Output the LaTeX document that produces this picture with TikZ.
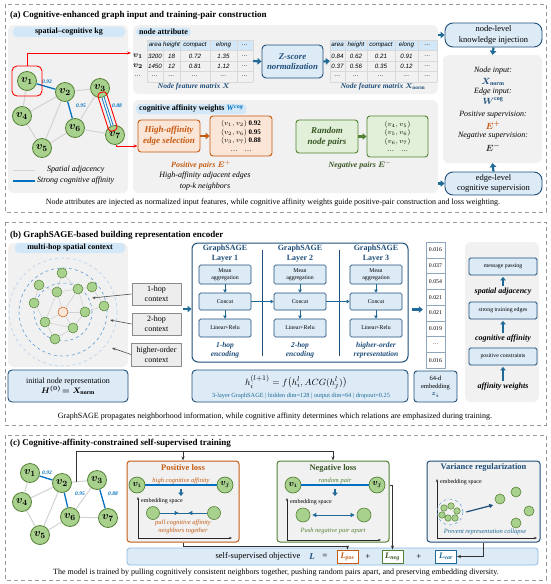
\documentclass[tikz,border=0pt]{standalone}
\usepackage{fontspec}
\usepackage{amsmath}
\usepackage{bm}
\setmainfont{Liberation Serif}
\newfontfamily\tabfont{Liberation Sans}
\usetikzlibrary{arrows.meta,positioning,calc}

\definecolor{panelgray}{HTML}{F1F1F1}
\definecolor{pillblue}{HTML}{D2E8F8}
\definecolor{boxblue}{HTML}{DDEBF7}
\definecolor{deepblue}{HTML}{1F4E79}
\definecolor{arrowteal}{HTML}{1F6A96}
\definecolor{edgeblue}{HTML}{0070C0}
\definecolor{orangeline}{HTML}{C55A11}
\definecolor{peach}{HTML}{FBE5D6}
\definecolor{greenline}{HTML}{548235}
\definecolor{greenfill}{HTML}{E2F0D9}
\definecolor{nodegreen}{HTML}{A9D18E}
\definecolor{darkgreen}{HTML}{375623}
\definecolor{adjgray}{HTML}{D3D3D3}
\definecolor{ctxgray}{HTML}{EDEDED}
\definecolor{ringblue}{HTML}{5B9BD5}

\newcommand{\fsz}[1]{\fontsize{#1}{\fpeval{1.2*#1}}\selectfont}

\tikzset{
	sectbox/.style={draw=black!40, dash pattern=on 4pt off 3pt, line width=0.8pt},
	heading/.style={anchor=west, inner sep=0, font=\bfseries\fsz{9}},
	captext/.style={inner sep=0, font=\fsz{8}},
	panel/.style={fill=panelgray, rounded corners=6pt, inner sep=0},
	pill/.style={fill=pillblue, rounded corners=4pt, inner xsep=3pt, inner ysep=1.5pt, font=\bfseries\fsz{8}},
	bluebox/.style={fill=boxblue, draw=deepblue, line width=0.9pt, rounded corners=4pt, align=center, inner sep=1pt},
	orangebox/.style={fill=peach, draw=orangeline, line width=0.9pt, rounded corners=3pt, align=center, inner sep=1pt},
	greenbox/.style={fill=greenfill, draw=greenline, line width=0.9pt, rounded corners=3pt, align=center, inner sep=1pt},
	gnode/.style={circle, draw=greenline, fill=nodegreen, line width=0.8pt, minimum size=19, inner sep=0, font=\boldmath\fsz{11}},
	mnode/.style={circle, draw=greenline, fill=nodegreen, line width=0.5pt, minimum size=10, inner sep=0},
	inode/.style={circle, draw=greenline, fill=nodegreen, line width=0.7pt, minimum size=16, inner sep=0, font=\boldmath\fsz{9}},
	ecircle/.style={circle, draw=greenline, fill=nodegreen, line width=0.6pt, minimum size=13, inner sep=0},
	tinynode/.style={circle, draw=greenline, fill=nodegreen, line width=0.5pt, minimum size=6.5, inner sep=0},
	adj/.style={draw=adjgray, line width=1pt},
	aff/.style={draw=edgeblue, line width=1.3pt},
	mesh/.style={draw=black!18, line width=0.6pt},
	ring/.style={draw=ringblue, dashed, line width=0.6pt},
	wlab/.style={font=\bfseries\itshape\fsz{5.5}, text=edgeblue, inner sep=0},
	redarrow/.style={draw=red, line width=0.9pt, -{Stealth[length=4pt]}},
	fatarrow/.style={draw=arrowteal, line width=2.2pt, -{Triangle[length=4pt,width=6.5pt]}},
	upfat/.style={draw=arrowteal, line width=1.8pt, -{Triangle[length=3.5pt,width=5.5pt]}},
	smallarrow/.style={draw=arrowteal, line width=0.9pt, -{Triangle[length=3pt,width=3.5pt]}},
	ctxarrow/.style={draw=black!70, line width=0.6pt, -{Stealth[length=3.5pt]}},
	connline/.style={draw=black!80, line width=0.8pt},
	conn/.style={connline, -{Stealth[length=4pt]}},
	embaxis/.style={draw=black!85, line width=0.7pt, -{Stealth[length=3pt]}},
	tealline/.style={draw=arrowteal, line width=0.8pt},
	tabline/.style={draw=black!15, line width=0.4pt},
	tabtext/.style={font=\tabfont\itshape\fsz{6.2}, inner sep=0},
	infotext/.style={font=\itshape\fsz{8}, inner sep=0},
	ctxbox/.style={fill=ctxgray, draw=black!45, line width=0.6pt, minimum width=49, minimum height=22, align=center, inner sep=0, font=\fsz{8}},
	sbox/.style={fill=boxblue, draw=deepblue, line width=0.7pt, rounded corners=1.5pt, minimum width=52, inner sep=0.5pt, align=center, font=\fsz{5.8}},
	vcell/.style={fill=white, draw=deepblue!50, line width=0.4pt, minimum width=19, minimum height=15.75, inner sep=0, font=\fsz{5.8}},
	rolebox/.style={fill=boxblue, draw=deepblue, line width=0.8pt, minimum width=68, minimum height=17, rounded corners=1.5pt, inner sep=0, font=\fsz{5.8}},
	roletext/.style={font=\bfseries\itshape\fsz{8}, inner sep=1pt},
	lossframe/.style={fill=panelgray, line width=1pt, rounded corners=3pt, inner sep=0, minimum width=112, minimum height=81},
	lossbox/.style={fill=white, line width=0.9pt, minimum width=21, minimum height=13, inner sep=0, font=\bfseries\itshape\fsz{8.5}}
}

\begin{document}
\begin{tikzpicture}[x=1pt, y=-1pt]
	\useasboundingbox (0,0) rectangle (550,584);
	\fill[white] (0,0) rectangle (550,584);

	\draw[sectbox] (5,4) rectangle (546,212);
	\node[heading] (headA) at (10,15) {(a) Cognitive-enhanced graph input and training-pair construction};

	\node[panel, minimum width=120, minimum height=168] (kgpanel) at (68,109) {};
	\node[pill, minimum width=112] (kglab) at (69,32) {spatial--cognitive kg};
	\node[gnode] (a1) at (27,81) {$v_1$};
	\node[gnode] (a2) at (65,92) {$v_2$};
	\node[gnode] (a3) at (100,88) {$v_3$};
	\node[gnode] (a4) at (22,116) {$v_4$};
	\node[gnode] (a5) at (42,148) {$v_5$};
	\node[gnode] (a6) at (75,128) {$v_6$};
	\node[gnode] (a7) at (115,135) {$v_7$};
	\draw[adj] (a1) -- (a4);
	\draw[adj] (a2) -- (a3);
	\draw[adj] (a2) -- (a4);
	\draw[adj] (a2) -- (a5);
	\draw[adj] (a3) -- (a6);
	\draw[adj] (a4) -- (a5);
	\draw[adj] (a5) -- (a6);
	\draw[adj] (a6) -- (a7);
	\draw[aff] (a1) -- (a2);
	\draw[aff] (a2) -- (a6);
	\draw[edgeblue, double=panelgray, double distance=1.4pt, line width=0.8pt] (a3) -- (a7);
	\node[wlab] (aw1) at (47,82) {0.92};
	\node[wlab] (aw2) at (81,106) {0.95};
	\node[wlab] (aw3) at (117,106) {0.88};
	\node[draw=red, line width=0.9pt, rounded corners=5pt, minimum size=30] (v1sel) at (a1) {};
	\node[draw=red, line width=0.9pt, rounded corners=3pt, minimum width=40, minimum height=9, rotate=-72.3] (e37sel) at ($(a3)!0.5!(a7)$) {};
	\draw[adj] (13,170) -- (35,170);
	\node[font=\itshape\fsz{8}, anchor=west, inner sep=0] (legadj) at (47,170) {Spatial adjacency};
	\draw[aff] (13,181) -- (35,181);
	\node[font=\itshape\fsz{8}, anchor=west, inner sep=0] (legaff) at (37,181) {Strong cognitive affinity};

	\node[panel, minimum width=305, minimum height=69] (attrpanel) at (285.5,59.5) {};
	\node[pill, anchor=west] (attrlab) at (136,32) {node attribute};
	\fill[pillblue] (147,40) rectangle (253,50);
	\foreach \gx in {147,163,180,210,237,253} \draw[tabline] (\gx,40) -- (\gx,82);
	\foreach \gy in {40,50,61,71,82} \draw[tabline] (147,\gy) -- (253,\gy);
	\foreach \tx/\hd [count=\k] in {155/area,171.5/height,195/compact,223.5/elong,245/\dots} \node[tabtext] (xh\k) at (\tx,45) {\hd};
	\foreach \tx/\hd [count=\k] in {155/3200,171.5/18,195/0.72,223.5/1.35,245/\dots} \node[tabtext] (xa\k) at (\tx,56) {\hd};
	\foreach \tx/\hd [count=\k] in {155/1450,171.5/12,195/0.81,223.5/1.12,245/\dots} \node[tabtext] (xb\k) at (\tx,66) {\hd};
	\foreach \tx [count=\k] in {155,171.5,195,223.5,245} \node[tabtext] (xc\k) at (\tx,76) {\dots};
	\node[font=\boldmath\fsz{8.5}] (xr1) at (138,56) {$v_1$};
	\node[font=\boldmath\fsz{8.5}] (xr2) at (138,66) {$v_2$};
	\node[tabtext] (xr3) at (138,76) {\dots};
	\node[minimum width=106, minimum height=42, inner sep=0] (tabx) at (200,61) {};
	\node[font=\boldmath\bfseries\itshape\fsz{7.5}, text=deepblue] (tabxlab) at (194,87) {Node feature matrix $X$};
	\node[bluebox, minimum width=61, minimum height=33, font=\bfseries\itshape\fsz{8.8}, text=deepblue] (zscore) at (292.5,61.5) {Z-score\\normalization};
	\fill[pillblue] (330,40) rectangle (437,50);
	\foreach \gx in {330,345,367,395,418,437} \draw[tabline] (\gx,40) -- (\gx,82);
	\foreach \gy in {40,50,61,71,82} \draw[tabline] (330,\gy) -- (437,\gy);
	\foreach \tx/\hd [count=\k] in {337.5/area,356/height,381/compact,406.5/elong,427.5/\dots} \node[tabtext] (nh\k) at (\tx,45) {\hd};
	\foreach \tx/\hd [count=\k] in {337.5/0.84,356/0.62,381/0.21,406.5/0.91,427.5/\dots} \node[tabtext] (na\k) at (\tx,56) {\hd};
	\foreach \tx/\hd [count=\k] in {337.5/0.37,356/0.56,381/0.35,406.5/0.12,427.5/\dots} \node[tabtext] (nb\k) at (\tx,66) {\hd};
	\foreach \tx [count=\k] in {337.5,356,381,406.5,427.5} \node[tabtext] (nc\k) at (\tx,76) {\dots};
	\node[minimum width=107, minimum height=42, inner sep=0] (tabn) at (383.5,61) {};
	\node[font=\boldmath\bfseries\itshape\fsz{7.5}, text=deepblue] (tabnlab) at (383,87) {Node feature matrix $X_{\mathrm{norm}}$};
	\draw[fatarrow] (tabx.east) -- (zscore.west);
	\draw[fatarrow] (zscore.east) -- (tabn.west);
	\coordinate (attrin) at (131,53);
	\draw[redarrow] (v1sel.north) |- (attrin);

	\node[bluebox, rounded corners=8pt, minimum width=97, minimum height=24, font=\fsz{8.5}] (nodeinj) at (493.5,35) {node-level\\knowledge injection};
	\node[panel, minimum width=99, minimum height=108] (infopanel) at (492.5,109) {};
	\node[infotext] (ni1) at (493,71) {Node input:};
	\node[font=\boldmath\fsz{9}, text=deepblue] (ni2) at (493,82) {$X_{\mathrm{norm}}$};
	\node[infotext] (ni3) at (493,92) {Edge input:};
	\node[font=\boldmath\fsz{9}, text=deepblue] (ni4) at (493,101) {$W^{\mathrm{cog}}$};
	\node[infotext] (ni5) at (493,115) {Positive supervision:};
	\node[font=\boldmath\fsz{9}, text=orangeline] (ni6) at (493,125) {$E^{+}$};
	\node[infotext] (ni7) at (493,136) {Negative supervision:};
	\node[font=\boldmath\fsz{9}, text=black!80] (ni8) at (493,147) {$E^{-}$};
	\node[bluebox, rounded corners=8pt, minimum width=97, minimum height=23, font=\fsz{8.5}] (edgebox) at (493.5,183.5) {edge-level\\cognitive supervision};
	\draw[fatarrow] (attrpanel.east |- nodeinj.west) -- (nodeinj.west);
	\draw[fatarrow] (nodeinj.south) -- (infopanel.north);
	\draw[fatarrow] (edgebox.north) -- (infopanel.south);

	\node[panel, minimum width=305, minimum height=93] (affpanel) at (285.5,146.5) {};
	\node[pill, anchor=west] (afflab) at (136,109) {cognitive affinity weights \textcolor{edgeblue}{\textit{W}\textsuperscript{\textit{cog}}}};
	\node[orangebox, minimum width=62, minimum height=32, font=\bfseries\itshape\fsz{9}, text=orangeline] (hisel) at (169,136) {High-affinity\\edge selection};
	\node[orangebox, minimum width=62, minimum height=40, font=\fsz{7}] (pospairs) at (241,136) {$(v_1,v_2)$ \textbf{0.92}\\$(v_2,v_6)$ \textbf{0.95}\\$(v_3,v_7)$ \textbf{0.88}\\\dots\quad\dots};
	\node[font=\bfseries\itshape\fsz{8}, text=orangeline] (poslab) at (201,165) {Positive pairs $\bm{E}^{+}$};
	\node[infotext] (posdesc1) at (205,176) {High-affinity adjacent edges};
	\node[infotext] (posdesc2) at (205,187) {top-\textit{k} neighbors};
	\node[greenbox, minimum width=62, minimum height=33, font=\bfseries\itshape\fsz{9}, text=darkgreen] (randsel) at (327,136.5) {Random\\node pairs};
	\node[greenbox, minimum width=61, minimum height=41, font=\fsz{7}] (negpairs) at (397.5,136.5) {$(v_4,v_5)$\\$(v_5,v_6)$\\$(v_6,v_7)$\\\dots\quad\dots};
	\node[font=\bfseries\itshape\fsz{8}, text=darkgreen] (neglab) at (360,165) {Negative pairs $\bm{E}^{-}$};
	\draw[fatarrow, draw=orangeline] (hisel.east) -- (pospairs.west);
	\draw[fatarrow, draw=greenline] (randsel.east) -- (negpairs.west);
	\draw[fatarrow] (affpanel.east |- edgebox.west) -- (edgebox.west);
	\draw[redarrow] (a7.-80) |- ([yshift=-10pt]hisel.west);

	\node[captext] (capA) at (273,203) {Node attributes are injected as normalized input features, while cognitive affinity weights guide positive-pair construction and loss weighting.};

	\draw[sectbox] (5,222) rectangle (546,425);
	\node[heading] (headB) at (10,235) {(b) GraphSAGE-based building representation encoder};

	\node[panel, minimum width=120, minimum height=124] (hoppanel) at (68,305) {};
	\node[pill, minimum width=110] (hoplab) at (70,248) {multi-hop spatial context};
	\node[mnode, fill=peach, draw=orangeline] (m0) at (63,312) {};
	\draw[draw=ringblue!45, dashed, line width=0.6pt] (m0) circle[radius=54pt];
	\draw[ring] (m0) circle[radius=44pt];
	\draw[ring] (m0) circle[radius=29pt];
	\node[mnode] (m1) at (62,273) {};
	\node[mnode] (m2) at (39,285) {};
	\node[mnode] (m3) at (57,292) {};
	\node[mnode] (m4) at (78,289) {};
	\node[mnode] (m5) at (92,287) {};
	\node[mnode] (m6) at (34,303) {};
	\node[mnode] (m7) at (104,306) {};
	\node[mnode] (m8) at (85,312) {};
	\node[mnode] (m9) at (45,322) {};
	\node[mnode] (m10) at (73,328) {};
	\node[mnode] (m11) at (55,339) {};
	\foreach \ea/\eb in {0/3,0/4,0/8,0/9,0/10,3/4,4/8,8/10,10/9,9/3,1/3,2/3,4/5,5/7,7/8,6/9,9/11,10/11,2/6,1/4}
		\draw[mesh] (m\ea) -- (m\eb);
	\node[ctxbox] (hop1) at (156.5,294) {1-hop\\context};
	\node[ctxbox] (hop2) at (156.5,324) {2-hop\\context};
	\node[ctxbox, minimum width=50, minimum height=23] (hop3) at (156.5,354.5) {higher-order\\context};
	\coordinate (hop1pt) at (92,298);
	\coordinate (hop2pt) at (110,320);
	\coordinate (hop3pt) at (112,348);
	\draw[ctxarrow] (hop1.west) -- (hop1pt);
	\draw[ctxarrow] (hop2.west) -- (hop2pt);
	\draw[ctxarrow] (hop3.west) -- (hop3pt);
	\node[bluebox, minimum width=120, minimum height=32, font=\fsz{8}] (initrep) at (68,386) {initial node representation\\{\boldmath$H^{(0)}\!=X_{\mathrm{norm}}$}};

	\node[draw=deepblue, fill=white, line width=1pt, rounded corners=6pt, minimum width=216, minimum height=119, inner sep=0] (sage) at (300,302.5) {};
	\draw[deepblue, line width=0.8pt] (262,250) -- (262,356);
	\draw[deepblue, line width=0.8pt] (339,250) -- (339,356);
	\foreach \l/\cx/\capt in {1/225/{1-hop\\encoding}, 2/300/{2-hop\\encoding}, 3/376/{higher-order\\representation}}{
		\node[font=\bfseries\fsz{8}, text=deepblue, align=center, inner sep=0] (lay\l) at (\cx,253.5) {GraphSAGE\\Layer \l};
		\node[sbox, minimum height=19] (mean\l) at (\cx,274.5) {Mean\\aggregation};
		\node[sbox, minimum height=17] (cat\l) at (\cx,301.5) {Concat};
		\node[sbox, minimum height=18] (lin\l) at (\cx,328) {Linear+Relu};
		\node[font=\bfseries\itshape\fsz{7.5}, text=deepblue, align=center, inner sep=0] (enc\l) at (\cx,350.5) {\capt};
		\draw[smallarrow] (mean\l) -- (cat\l);
		\draw[smallarrow] (cat\l) -- (lin\l);
	}
	\draw[smallarrow] (cat1) -- (cat2);
	\draw[smallarrow] (cat2) -- (cat3);
	\coordinate (ctxout) at (183,309);
	\draw[fatarrow] (ctxout) -- (ctxout -| sage.west);
	\node[bluebox, minimum width=216, minimum height=32] (formula) at (300,386) {};
	\node[font=\fsz{9.5}, inner sep=0] (formtxt) at (296,382) {$h_i^{(l+1)} = f\bigl(h_i^l, ACG(h_j^l)\bigr)$};
	\node[font=\fsz{6.3}, text=arrowteal, inner sep=0] (formcfg) at (301,395.5) {3-layer GraphSAGE | hidden dim=128 | output dim=64 | dropout=0.25};

	\foreach \val [count=\k] in {0.016,0.037,0.054,0.021,0.021,0.019,{\dots},0.016}
		\node[vcell] (vec\k) at (435.5,{234.125+15.75*\k}) {\val};
	\coordinate (sageout) at ($(sage.east)+(3,7)$);
	\draw[fatarrow, shorten >=3pt] (sageout) -- (sageout -| vec4.west);
	\node[bluebox, rounded corners=3pt, minimum width=43, minimum height=31, font=\fsz{6.5}] (embbox) at (435.5,386.5) {64-d\\embedding\\{\boldmath\color{deepblue}$z_i$}};

	\node[panel, minimum width=74, minimum height=160] (rolepanel) at (502,322) {};
	\node[rolebox] (msgbox) at (503,266.5) {message passing};
	\node[roletext] (spadj) at (503,292) {spatial adjacency};
	\node[rolebox] (strbox) at (503,310.5) {strong training edges};
	\node[roletext] (cogaff) at (503,339) {cognitive affinity};
	\node[rolebox] (posbox) at (503,356.5) {positive constraints};
	\node[roletext] (affw) at (503,387) {affinity weights};
	\draw[upfat, shorten <=1.5pt, shorten >=1.5pt] (spadj) -- (msgbox);
	\draw[upfat, shorten <=1.5pt, shorten >=1.5pt] (cogaff) -- (strbox);
	\draw[upfat, shorten <=1.5pt, shorten >=1.5pt] (affw) -- (posbox);

	\node[captext] (capB) at (275,417) {GraphSAGE propagates neighborhood information, while cognitive affinity determines which relations are emphasized during training.};

	\draw[sectbox] (5,435) rectangle (546,580);
	\node[heading] (headC) at (10,443) {(c) Cognitive-affinity-constrained self-supervised training};

	\node[gnode] (c1) at (30,473) {$v_1$};
	\node[gnode] (c2) at (62,483) {$v_2$};
	\node[gnode] (c3) at (97,480) {$v_3$};
	\node[gnode] (c4) at (22,502) {$v_4$};
	\node[gnode] (c5) at (40,535) {$v_5$};
	\node[gnode] (c6) at (70,517) {$v_6$};
	\node[gnode] (c7) at (108,518) {$v_7$};
	\draw[adj] (c1) -- (c4);
	\draw[adj] (c2) -- (c3);
	\draw[adj] (c2) -- (c4);
	\draw[adj] (c2) -- (c5);
	\draw[adj] (c3) -- (c6);
	\draw[adj] (c4) -- (c5);
	\draw[adj] (c5) -- (c6);
	\draw[adj] (c6) -- (c7);
	\draw[aff] (c1) -- (c2);
	\draw[aff] (c2) -- (c6);
	\draw[aff] (c3) -- (c7);
	\node[wlab] (cw1) at (47,473) {0.92};
	\node[wlab] (cw2) at (80,494) {0.95};
	\node[wlab] (cw3) at (113,494) {0.88};

	\node[lossframe, draw=orangeline] (posloss) at (183,501.5) {};
	\node[font=\bfseries\fsz{8.5}, text=orangeline] (postitle) at (183,468) {Positive loss};
	\node[inode] (pvi) at (137,485) {$v_i$};
	\node[inode] (pvj) at (225,485) {$v_j$};
	\draw[aff] (pvi) -- (pvj) node[midway, above=0.5pt, font=\itshape\fsz{6.5}, text=orangeline, inner sep=0] (posrel) {high cognitive affinity};
	\draw[upfat] ($(pvi)!0.5!(pvj)+(0,4)$) -- ++(0,7);
	\coordinate (porig) at (138,538);
	\draw[embaxis] (porig) -- ++(0,-41);
	\draw[embaxis] (porig) -- ++(94,0);
	\node[font=\fsz{6}, anchor=west, inner sep=0] (pemb) at (141,501) {embedding space};
	\node[ecircle] (pg1) at (153,513) {};
	\node[ecircle] (pg2) at (214,513) {};
	\draw[tealline] (pg1) -- (pg2);
	\draw[tealline, -{Triangle[length=4pt,width=4pt]}] (pg1) -- ($(pg1)!0.42!(pg2)$);
	\draw[tealline, -{Triangle[length=4pt,width=4pt]}] (pg2) -- ($(pg1)!0.58!(pg2)$);
	\node[font=\itshape\fsz{6.5}, text=orangeline, align=center, inner sep=0] (pulltxt) at (183,527) {pull cognitive affinity\\neighbors together};

	\node[lossframe, draw=greenline] (negloss) at (333,501.5) {};
	\node[font=\bfseries\fsz{8.5}, text=darkgreen] (negtitle) at (333,468) {Negative loss};
	\node[inode] (nvi) at (293,485) {$v_i$};
	\node[inode] (nvj) at (377,485) {$v_j$};
	\draw[aff] (nvi) -- (nvj) node[midway, above=0.5pt, font=\itshape\fsz{6.5}, text=greenline, inner sep=0] (negrel) {random pair};
	\draw[upfat] ($(nvi)!0.5!(nvj)+(0,4)$) -- ++(0,7);
	\coordinate (norig) at (287,540);
	\draw[embaxis] (norig) -- ++(0,-42);
	\draw[embaxis] (norig) -- ++(94,0);
	\node[font=\fsz{6}, anchor=west, inner sep=0] (nemb) at (290,502) {embedding space};
	\node[ecircle, minimum size=14] (ng1) at (303,515) {};
	\node[ecircle, minimum size=14] (ng2) at (364,515) {};
	\draw[tealline, {Triangle[length=4pt,width=4pt]}-{Triangle[length=4pt,width=4pt]}, shorten <=2pt, shorten >=2pt] (ng1) -- (ng2);
	\node[font=\itshape\fsz{6.5}, text=greenline, inner sep=0] (pushtxt) at (333,531) {Push negative pair apart};

	\node[lossframe, draw=deepblue, minimum width=113] (varbox) at (483.5,501.5) {};
	\node[font=\bfseries\fsz{8.5}, text=deepblue] (vartitle) at (483.5,467) {Variance regularization};
	\coordinate (vorig) at (437,538);
	\draw[embaxis] (vorig) -- ++(0,-59);
	\draw[embaxis] (vorig) -- ++(100,0);
	\node[font=\fsz{6}, anchor=west, inner sep=0] (vemb) at (440,482) {embedding space};
	\node[circle, draw=ringblue, dashed, line width=0.5pt, minimum size=26, inner sep=0] (clus) at (450,512) {};
	\foreach \dx/\dy [count=\k] in {-6/-4,1/-6,7/-1,5/6,-2/6,-8/3}
		\node[tinynode] (cl\k) at ($(clus)+(\dx,\dy)$) {};
	\draw[deepblue, line width=1.2pt, -{Triangle[length=4pt,width=4pt]}] (clus.east) ++(3,0) -- ++(27,-7);
	\foreach \sx/\sy [count=\k] in {500/499,516/492,529/511,516/523}
		\node[ecircle, minimum size=10] (sp\k) at (\sx,\sy) {};
	\node[font=\itshape\fsz{6.5}, text=arrowteal, inner sep=0] (varcap) at (485,532) {Prevent representation collapse};

	\node[fill=boxblue, draw=ringblue!70, line width=0.8pt, rounded corners=3pt, minimum width=411, minimum height=17, inner sep=0] (objbar) at (332.5,556.5) {};
	\node[font=\fsz{8.5}, inner sep=0] (objtxt) at (258,556.5) {self-supervised objective};
	\node[font=\bfseries\itshape\fsz{9}, text=deepblue, inner sep=0] (objL) at (312,556.5) {L};
	\node[font=\fsz{9}, inner sep=0] (objeq) at (325,556.5) {=};
	\node[lossbox, draw=orangeline, text=orangeline] (lpos) at (347.5,556.5) {L\textsubscript{pos}};
	\node[font=\fsz{9}, inner sep=0] (plus1) at (368,556.5) {+};
	\node[lossbox, draw=greenline, text=darkgreen] (lneg) at (392.5,556.5) {L\textsubscript{neg}};
	\node[font=\fsz{9}, inner sep=0] (plus2) at (419,556.5) {+};
	\node[lossbox, draw=arrowteal, text=arrowteal] (lvar) at (446,556.5) {L\textsubscript{var}};

	\coordinate (linkstart) at ($(c2)!0.4!(c3)$);
	\coordinate (linkbar) at ($(linkstart)+(0,-30)$);
	\draw[connline] (linkstart) -- (linkbar);
	\draw[conn] (linkbar) -| (negloss.north);
	\draw[conn] (posloss.north |- linkbar) -- (posloss.north);
	\draw[conn] (posloss.south) -- ++(0,4) -| (lpos.north);
	\draw[conn] (negloss.east |- nvj) -| (lneg.north);
	\draw[conn] (varbox.south) |- (lvar.east);

	\node[captext] (capC) at (276,573) {The model is trained by pulling cognitively consistent neighbors together, pushing random pairs apart, and preserving embedding diversity.};
\end{tikzpicture}
\end{document}
